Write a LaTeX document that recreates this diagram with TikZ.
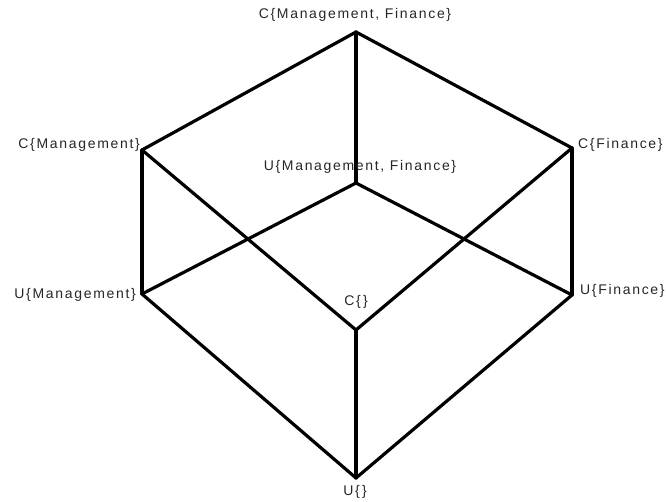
\documentclass[tikz,border=0pt]{standalone}
\usepackage{fontspec}
\setmainfont{Liberation Sans}[LetterSpace=12]
\usepackage{tikz}

\tikzset{
  lbl/.style={inner sep=0pt, font=\fontsize{14}{16}\selectfont, text=black!85},
  arista/.style={line width=3.2pt, black}
}

\begin{document}
\begin{tikzpicture}[x=1pt, y=-1pt, line cap=round, line join=round]
  \useasboundingbox (0,0) rectangle (666,502);

  % Vértices
  \coordinate (CMF) at (356,32);
  \coordinate (CM)  at (142,150);
  \coordinate (CF)  at (572,148);
  \coordinate (UMF) at (356,183);
  \coordinate (UM)  at (142,294);
  \coordinate (UF)  at (572,295);
  \coordinate (C0)  at (356,330);
  \coordinate (U0)  at (356,478);

  % Aristas
  \draw[arista] (CMF) -- (CM);
  \draw[arista] (CMF) -- (CF);
  \draw[arista] (CMF) -- (UMF);
  \draw[arista] (CM) -- (UM);
  \draw[arista] (CM) -- (C0);
  \draw[arista] (CF) -- (UF);
  \draw[arista] (CF) -- (C0);
  \draw[arista] (UMF) -- (UM);
  \draw[arista] (UMF) -- (UF);
  \draw[arista] (UM) -- (U0);
  \draw[arista] (UF) -- (U0);
  \draw[arista] (C0) -- (U0);

  % Etiquetas
  \node[lbl] (tCMF) at (355,15) {C\{Management, Finance\}};
  \node[lbl, anchor=east] (tCM) at (140,145) {C\{Management\}};
  \node[lbl, anchor=west] (tCF) at (578,145) {C\{Finance\}};
  \node[lbl] (tUMF) at (360,167) {U\{Management, Finance\}};
  \node[lbl, anchor=east] (tUM) at (136,295) {U\{Management\}};
  \node[lbl, anchor=west] (tUF) at (580,291) {U\{Finance\}};
  \node[lbl] (tC0) at (356,302) {C\{\,\}};
  \node[lbl] (tU0) at (355,492) {U\{\,\}};
\end{tikzpicture}
\end{document}
